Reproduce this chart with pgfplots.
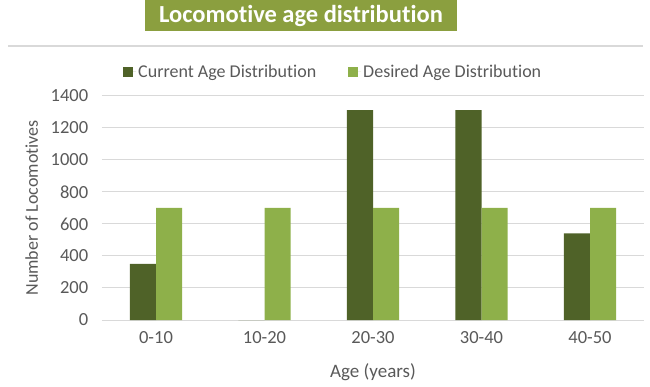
\documentclass[border=0pt]{standalone}
\usepackage{pgfplots}
\pgfplotsset{compat=1.18}
\usepackage{fontspec}
\setmainfont{Carlito}[Ligatures=NoCommon]
\definecolor{darkbar}{HTML}{4F6228}
\definecolor{lightbar}{HTML}{8EB04A}
\definecolor{titlegreen}{HTML}{8B9F3F}
\definecolor{gridgray}{HTML}{D9D9D9}
\definecolor{textgray}{HTML}{595959}
\begin{document}
\begin{tikzpicture}[x=1pt,y=1pt]
\useasboundingbox (0,0) rectangle (650,386);
\node[fill=titlegreen, text=white, font=\bfseries\fontsize{24.5}{28}\selectfont,
      minimum width=312pt, minimum height=31pt, inner sep=0pt] at (301,370.5) {Locomotive age distribution};
\draw[gridgray, line width=2pt] (8,340) -- (643,340);
\begin{axis}[
  at={(101.75pt,66pt)}, anchor=south west,
  scale only axis, width=542.5pt, height=224.3pt,
  ybar=0pt, bar width=0.24,
  xmin=-0.5, xmax=4.5, ymin=0, ymax=1400,
  xtick={0,1,2,3,4},
  xticklabels={0-10,10-20,20-30,30-40,40-50},
  ytick={0,200,...,1400},
  ymajorgrids, grid style={gridgray, line width=1pt},
  axis line style={draw=none},
  major tick length=0pt,
  /pgf/number format/assume math mode=true,
  /pgf/number format/1000 sep={},
  tick label style={font=\fontsize{18.5}{20}\selectfont, text=textgray},
  yticklabel style={xshift=-10pt},
  xticklabel style={yshift=-8pt},
  xlabel={Age (years)},
  ylabel={Number of Locomotives},
  xlabel style={at={(axis description cs:0.5,-0.2345)}, anchor=center, font=\fontsize{19}{22}\selectfont, text=textgray},
  ylabel style={at={(axis description cs:-0.129,0.5)}, anchor=center, rotate=0, font=\fontsize{18}{21}\selectfont, text=textgray},
  legend columns=2,
  legend style={at={(0.4267,1.1057)}, anchor=center, draw=none, fill=none,
    font=\fontsize{18}{20}\selectfont, text=textgray,
    /tikz/every even column/.append style={column sep=30pt}},
  legend cell align=left,
  legend image code/.code={\fill[#1] (0pt,-5pt) rectangle (10pt,5pt); \path (0pt,0pt) -- (13pt,0pt);},
]
\addplot[fill=darkbar, draw=none] coordinates {(0,350) (1,0) (2,1310) (3,1310) (4,540)};
\addplot[fill=lightbar, draw=none] coordinates {(0,700) (1,700) (2,700) (3,700) (4,700)};
\legend{Current Age Distribution, Desired Age Distribution}
\end{axis}
\end{tikzpicture}
\end{document}
